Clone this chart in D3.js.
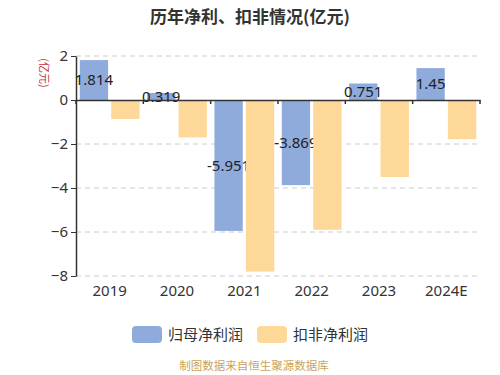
<!DOCTYPE html>
<html>
<head>
<meta charset="utf-8">
<script src="https://cdn.jsdelivr.net/npm/d3@7"></script>
<style>
  body { margin: 0; background: #fff; }
  svg { font-family: "Noto Sans CJK SC", "Noto Sans", sans-serif; }
</style>
</head>
<body>
<svg id="chart" width="500" height="375"></svg>
<script>
const years = ["2019", "2020", "2021", "2022", "2023", "2024E"];
const netProfit = [1.814, 0.319, -5.951, -3.869, 0.751, 1.45];
const deductedProfit = [-0.86, -1.7, -7.8, -5.9, -3.5, -1.78];
const yTicks = [2, 0, -2, -4, -6, -8];
const seriesNames = ["归母净利润", "扣非净利润"];
const colors = ["#8eabdc", "#fed899"];

const svg = d3.select("#chart");
const plotLeft = 76, plotRight = 480, plotTop = 56, plotBottom = 276;

const x = d3.scaleBand().domain(years).range([plotLeft, plotRight]);
const inner = d3.scaleBand().domain([0, 1]).range([0, x.bandwidth()]).paddingInner(0.1).paddingOuter(0.12);
const y = d3.scaleLinear().domain([-8, 2]).range([plotBottom, plotTop]);

// title
svg.append("text")
    .attr("x", 250).attr("y", 23)
    .attr("text-anchor", "middle")
    .attr("font-size", 17).attr("font-weight", "bold").attr("fill", "#333")
    .text("历年净利、扣非情况(亿元)");

// unit label
svg.append("text")
    .attr("transform", "translate(40,73) rotate(90)")
    .attr("text-anchor", "middle")
    .attr("font-size", 11).attr("fill", "#c23531")
    .text("(亿元)");

// grid
svg.append("g")
    .selectAll("line")
    .data(yTicks.filter(d => d !== 0))
    .enter()
    .append("line")
    .attr("x1", plotLeft).attr("x2", plotRight)
    .attr("y1", d => y(d)).attr("y2", d => y(d))
    .attr("stroke", "#ccc").attr("stroke-dasharray", "5,4");

// y axis
const yAxis = svg.append("g")
    .attr("transform", `translate(${plotLeft},0)`)
    .call(d3.axisLeft(y).tickValues(yTicks).tickSize(5).tickSizeOuter(0));
yAxis.select(".domain").attr("stroke", "#333").attr("stroke-width", 1.5);
yAxis.selectAll(".tick line").attr("stroke", "#333");
yAxis.selectAll(".tick text").attr("font-size", 15).attr("fill", "#333")
    .attr("font-family", "Noto Sans, sans-serif");

// blue bars
svg.append("g")
    .selectAll("rect")
    .data(netProfit)
    .enter()
    .append("rect")
    .attr("x", (d, i) => x(years[i]) + inner(0))
    .attr("width", inner.bandwidth())
    .attr("y", d => y(Math.max(0, d)))
    .attr("height", d => Math.abs(y(d) - y(0)))
    .attr("fill", colors[0]);

// labels (drawn before yellow bars so they get covered like the original)
svg.append("g")
    .selectAll("text")
    .data(netProfit)
    .enter()
    .append("text")
    .attr("x", (d, i) => x(years[i]) + inner(0) + inner.bandwidth() / 2)
    .attr("y", d => (y(d) + y(0)) / 2)
    .attr("dy", "0.35em")
    .attr("text-anchor", "middle")
    .attr("font-size", 15).attr("fill", "#222")
    .attr("font-family", "Noto Sans, sans-serif")
    .text(d => d);

// yellow bars
svg.append("g")
    .selectAll("rect")
    .data(deductedProfit)
    .enter()
    .append("rect")
    .attr("x", (d, i) => x(years[i]) + inner(1))
    .attr("width", inner.bandwidth())
    .attr("y", d => y(Math.max(0, d)))
    .attr("height", d => Math.abs(y(d) - y(0)))
    .attr("fill", colors[1]);

// x axis on zero line
const xAxis = svg.append("g")
    .attr("transform", `translate(0,${y(0)})`)
    .call(d3.axisBottom(x).tickSizeOuter(0).tickFormat(""));
xAxis.select(".domain").attr("stroke", "#333").attr("stroke-width", 1.5);
xAxis.selectAll(".tick").remove();
// boundary ticks between categories
xAxis.selectAll("line.bt")
    .data(d3.range(years.length + 1))
    .enter()
    .append("line")
    .attr("class", "bt")
    .attr("x1", i => plotLeft + i * x.step())
    .attr("x2", i => plotLeft + i * x.step())
    .attr("y1", 0).attr("y2", 4)
    .attr("stroke", "#333").attr("stroke-width", 1.5);

// x labels
svg.append("g")
    .selectAll("text")
    .data(years)
    .enter()
    .append("text")
    .attr("x", d => x(d) + x.bandwidth() / 2)
    .attr("y", 296)
    .attr("text-anchor", "middle")
    .attr("font-size", 15).attr("fill", "#333")
    .attr("font-family", "Noto Sans, sans-serif")
    .text(d => d);

// legend
const legendX = [132, 257];
const legend = svg.append("g")
    .selectAll("g")
    .data(seriesNames)
    .enter()
    .append("g")
    .attr("transform", (d, i) => `translate(${legendX[i]},326)`);
legend.append("rect")
    .attr("width", 30).attr("height", 17).attr("rx", 4)
    .attr("fill", (d, i) => colors[i]);
legend.append("text")
    .attr("x", 36).attr("y", 9).attr("dy", "0.35em")
    .attr("font-size", 15).attr("fill", "#333")
    .text(d => d);

// footer
svg.append("text")
    .attr("x", 254).attr("y", 366).attr("dy", "0.35em")
    .attr("text-anchor", "middle")
    .attr("font-size", 11.5).attr("fill", "#c9a45a")
    .text("制图数据来自恒生聚源数据库");
</script>
</body>
</html>
